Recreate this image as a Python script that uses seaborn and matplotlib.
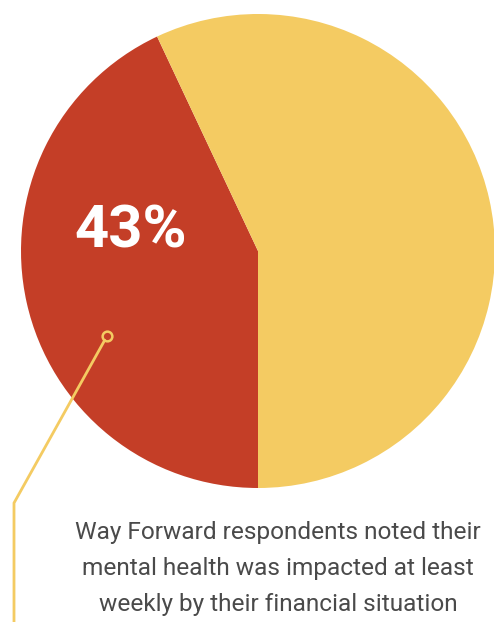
import matplotlib
matplotlib.use("Agg")
import matplotlib.pyplot as plt
import seaborn as sns

# Share of respondents
labels = ["Impacted at least weekly", "Other"]
shares = [43, 57]
slice_colors = ["#C43E27", "#F4CB62"]
caption_lines = [
    "Way Forward respondents noted their",
    "mental health was impacted at least",
    "weekly by their financial situation",
]

sns.set_theme(style="white")
plt.rcParams["font.family"] = ["Roboto", "DejaVu Sans"]

W, H = 494, 622
fig = plt.figure(figsize=(W / 100, H / 100), dpi=100)
ax = fig.add_axes([0, 0, 1, 1])

palette = sns.color_palette(slice_colors)
ax.pie(shares, colors=palette, startangle=-90, counterclock=False,
       center=(258, H - 251), radius=237,
       wedgeprops=dict(linewidth=0))

ax.set_xlim(0, W)
ax.set_ylim(0, H)
ax.set_aspect("equal")
ax.axis("off")

# Value label on the red slice
ax.text(131, H - 232, f"{shares[0]}%", color="white", fontsize=43,
        fontweight="bold", ha="center", va="center")

# Leader line from the slice down to the caption
line_color = "#F4CB62"
cx, cy = 107, H - 336
ax.plot([cx - 2.3, 14, 14], [cy - 4.2, H - 503, -5], color=line_color, lw=2.0,
        solid_joinstyle="miter", zorder=3)
ax.plot([cx], [cy], marker="o", markersize=7, markerfacecolor="none",
        markeredgecolor=line_color, markeredgewidth=1.8, zorder=4)

# Caption
for i, line in enumerate(caption_lines):
    ax.text(278, H - (532 + 36 * i), line, color="#4A4A4A", fontsize=17.6,
            ha="center", va="center")

fig.savefig("out.png", dpi=100)
